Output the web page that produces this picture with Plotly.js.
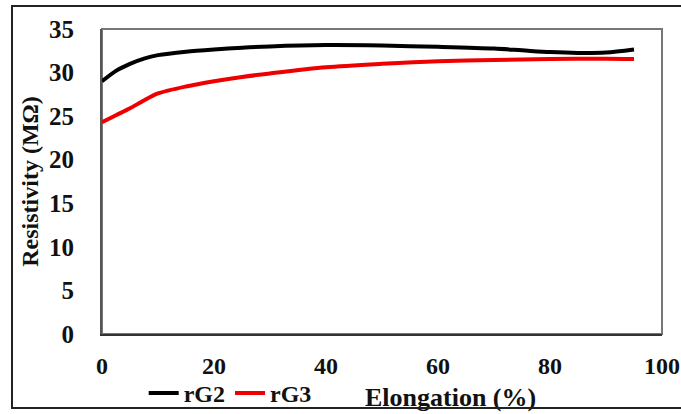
<!DOCTYPE html>
<html>
<head>
<meta charset="utf-8">
<script src="https://cdn.plot.ly/plotly-3.0.1.min.js"></script>
<style>
  html, body { margin: 0; padding: 0; background: #fff; }
  #wrap { position: relative; width: 681px; height: 414px; overflow: hidden; }
  #chart { width: 681px; height: 414px; }
  #frame { position: absolute; left: 11px; top: 5px; width: 720px; height: 404px;
           border: 2px solid #222; pointer-events: none; box-sizing: border-box; }
</style>
</head>
<body>
<div id="wrap">
  <div id="chart"></div>
  <div id="frame"></div>
</div>
<script>
// Elongation (%) sample points
const elongG2 = [0, 2.5, 5, 7.5, 10, 15, 20, 25, 30, 40, 50, 60, 70, 75, 80, 85, 90, 95];
const resistG2 = [29.0, 30.2, 31.0, 31.6, 32.0, 32.4, 32.65, 32.85, 33.0, 33.15, 33.1, 32.95, 32.75, 32.55, 32.35, 32.25, 32.3, 32.65];

const elongG3 = [0, 2.5, 5, 7.5, 10, 15, 20, 25, 30, 40, 50, 60, 70, 80, 90, 95];
const resistG3 = [24.3, 25.1, 25.9, 26.8, 27.6, 28.4, 29.0, 29.5, 29.9, 30.6, 31.0, 31.3, 31.45, 31.55, 31.6, 31.55];

const xTicks = [0, 20, 40, 60, 80, 100];
const yTicks = [0, 5, 10, 15, 20, 25, 30, 35];

const font = { family: '"Liberation Serif", "Times New Roman", serif', color: '#111' };
const f = s => Object.assign({ size: s }, font);

const traces = [
  { x: elongG2, y: resistG2, name: '<b>rG2</b>', mode: 'lines',
    line: { color: '#000000', width: 4, shape: 'spline', smoothing: 0.8 } },
  { x: elongG3, y: resistG3, name: '<b>rG3</b>', mode: 'lines',
    line: { color: '#ee0000', width: 4, shape: 'spline', smoothing: 0.8 } }
];

const layout = {
  width: 681, height: 414,
  margin: { l: 102, r: 19, t: 29, b: 80 },
  paper_bgcolor: '#ffffff', plot_bgcolor: '#ffffff',
  font: f(24),
  showlegend: true,
  legend: { orientation: 'h', xref: 'container', yref: 'container',
            x: 0.211, xanchor: 'left', y: 0.05, yanchor: 'middle',
            font: f(24), bgcolor: 'rgba(0,0,0,0)', tracegroupgap: 0, itemwidth: 30 },
  xaxis: {
    range: [0, 100], tickvals: xTicks, ticktext: xTicks.map(v => '<b>' + v + '</b>'),
    showgrid: false, zeroline: false, showline: true, linecolor: '#333', linewidth: 2,
    ticks: 'outside', ticklen: 9, tickcolor: 'rgba(0,0,0,0)', tickfont: f(24),
    automargin: false
  },
  yaxis: {
    range: [0, 35], tickvals: yTicks, ticktext: yTicks.map(v => '<b>' + v + '</b>'),
    showgrid: false, zeroline: false, showline: true, linecolor: '#555', linewidth: 2,
    ticks: 'outside', ticklen: 21, tickcolor: 'rgba(0,0,0,0)', tickfont: f(25),
    title: { text: '<b>Resistivity (MΩ)</b>', font: f(24), standoff: 4 },
    automargin: false
  },
  shapes: [
    { type: 'rect', xref: 'paper', yref: 'paper', x0: 0, x1: 1, y0: 0, y1: 1,
      line: { color: '#777', width: 2 }, layer: 'below' }
  ],
  annotations: [
    { text: '<b>Elongation (%)</b>', xref: 'paper', yref: 'paper', x: 0.623, y: -0.207,
      xanchor: 'center', yanchor: 'middle', showarrow: false, font: f(26) }
  ]
};

Plotly.newPlot('chart', traces, layout, { displayModeBar: false, staticPlot: true });
</script>
</body>
</html>
